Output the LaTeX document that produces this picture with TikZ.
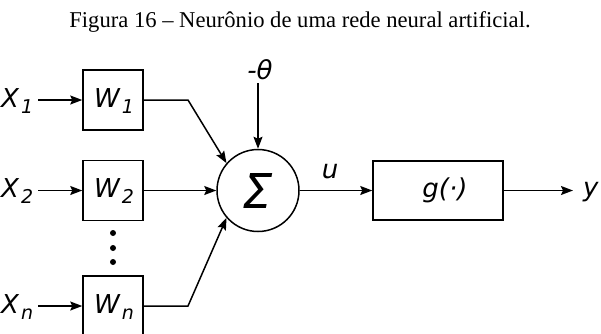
\documentclass[tikz,border=0pt]{standalone}
\usepackage{fontspec}
\setmainfont{Liberation Serif}
\newfontfamily\lblfont{DejaVu Sans}
\usetikzlibrary{arrows.meta}
\tikzset{
  conn/.style={line width=1.5pt},
  arr/.style={conn,-{Stealth[length=12pt,width=9pt,inset=2pt]}},
  wbox/.style={draw,line width=1.5pt,minimum width=60pt,minimum height=60pt,inner sep=0pt},
  lbl/.style={font=\fontsize{26}{26}\selectfont\lblfont\itshape,inner sep=0pt},
}
\newcommand{\sbs}[1]{\kern2pt\raisebox{-6pt}{\fontsize{19}{19}\selectfont #1}}
\begin{document}
\begin{tikzpicture}[x=1pt,y=-1pt]
\useasboundingbox (0,0) rectangle (601,333);
\clip (0,0) rectangle (601,333);
\node[font=\fontsize{22.6}{22.6}\selectfont,anchor=base] (cap) at (300,27) {Figura 16 -- Neurônio de uma rede neural artificial.};
% weight boxes
\node[wbox] (w1) at (113,100) {};
\node[wbox] (w2) at (113,190.5) {};
\node[wbox] (wn) at (113,306) {};
\node[lbl] (w1t) at (114,101) {W\sbs{1}};
\node[lbl] (w2t) at (114,191.5) {W\sbs{2}};
\node[lbl] (wnt) at (114,307) {W\sbs{n}};
% inputs
\node[lbl,anchor=west] (x1) at (1,101) {X\sbs{1}};
\node[lbl,anchor=west] (x2) at (1,191.5) {X\sbs{2}};
\node[lbl,anchor=west] (xn) at (1,307) {X\sbs{n}};
\coordinate (x1e) at (38,100);
\coordinate (x2e) at (38,190.5);
\coordinate (xne) at (38,306);
\draw[arr] (x1e) -- (w1.west);
\draw[arr] (x2e) -- (w2.west);
\draw[arr] (xne) -- (wn.west);
% dots
\fill (113,233) circle (3pt);
\fill (113,248) circle (3pt);
\fill (113,262) circle (3pt);
% summation
\node[draw,circle,line width=1.5pt,minimum size=82pt,inner sep=0pt] (sum) at (258,190.5) {};
\node[font=\fontsize{48}{48}\selectfont\lblfont\itshape,inner sep=0pt] (sig) at (258,190.5) {Σ};
\coordinate (k1) at (188,100);
\coordinate (kn) at (188,306);
\draw[arr] (w1.east) -- (k1) -- (sum.139);
\draw[arr] (w2.east) -- (sum.west);
\draw[arr] (wn.east) -- (kn) -- (sum.-139);
% theta
\node[lbl] (th) at (260,70) {-θ};
\coordinate (thb) at (258,83);
\draw[arr] (thb) -- (sum.north);
% activation
\node[draw,line width=1.5pt,minimum width=130pt,minimum height=59pt,inner sep=0pt] (g) at (438,190.5) {};
\node[lbl] (gt) at (445,190.5) {g(·)};
\draw[arr] (sum.east) -- (g.west);
\node[lbl] (u) at (330,172) {u};
\coordinate (ye) at (573,190.5);
\draw[arr] (g.east) -- (ye);
\node[lbl,anchor=west] (y) at (583,192) {y};
\end{tikzpicture}
\end{document}
